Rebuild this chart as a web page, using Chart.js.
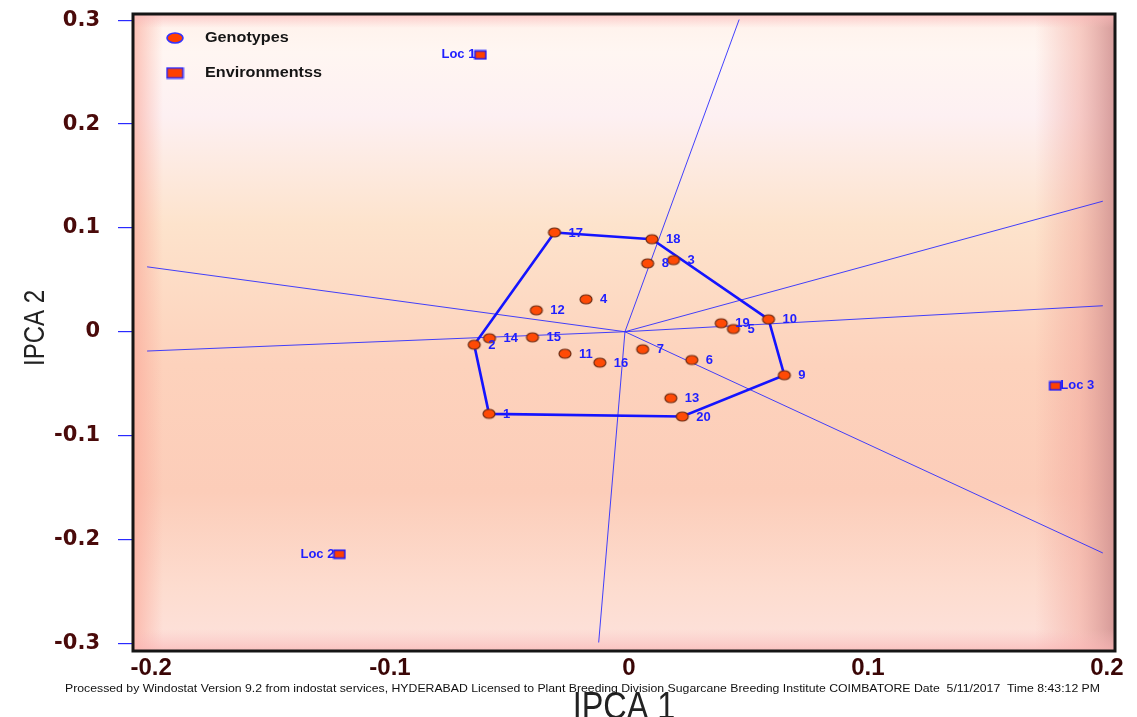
<!DOCTYPE html>
<html>
<head>
<meta charset="utf-8">
<title>AMMI biplot IPCA 1 vs IPCA 2</title>
<script src="https://cdn.jsdelivr.net/npm/chart.js@4.4.0/dist/chart.umd.min.js"></script>
<style>
  html, body { margin: 0; padding: 0; background: #fff; }
  #wrap { width: 1137px; height: 717px; position: relative; }
</style>
</head>
<body>
<div id="wrap"><canvas id="biplot"></canvas></div>
<script>
// Genotype scores
const genotypeLabels = ['1', '2', '3', '4', '5', '6', '7', '8', '9', '10',
  '11', '12', '13', '14', '15', '16', '17', '18', '19', '20'];
const genotypeIPCA1 = [-0.0569, -0.0631, 0.0203, -0.0163, 0.0454, 0.0280, 0.0074, 0.0095, 0.0667, 0.0601,
  -0.0251, -0.0371, 0.0192, -0.0567, -0.0387, -0.0105, -0.0295, 0.0113, 0.0403, 0.0240];
const genotypeIPCA2 = [-0.0791, -0.0125, 0.0689, 0.0312, 0.0026, -0.0272, -0.0169, 0.0658, -0.0419, 0.0119,
  -0.0212, 0.0206, -0.0640, -0.0063, -0.0054, -0.0298, 0.0956, 0.0891, 0.0081, -0.0817];

// Environment scores
const envLabels = ['Loc 1', 'Loc 2', 'Loc 3'];
const envIPCA1 = [-0.0605, -0.1195, 0.1801];
const envIPCA2 = [0.2666, -0.2142, -0.0522];

// Polygon joining the outermost genotypes
const hullOrder = ['17', '18', '10', '9', '20', '1', '2', '17'];

// Rays drawn from the origin, end points
const rayIPCA1 = [0.0478, -0.011, -0.2, -0.2, 0.2, 0.2, 0.2];
const rayIPCA2 = [0.3007, -0.2993, 0.0625, -0.0186, 0.1257, 0.025, -0.2131];

// Axis ticks
const xTicks = [-0.2, -0.1, 0, 0.1, 0.2];
const yTicks = [-0.3, -0.2, -0.1, 0, 0.1, 0.2, 0.3];

const footerText = 'Processed by Windostat Version 9.2 from indostat services, HYDERABAD Licensed to Plant Breeding Division Sugarcane Breeding Institute COIMBATORE Date  5/11/2017  Time 8:43:12 PM';

// Marker images
function makeEllipse(w, h, fill, stroke, lw) {
  const c = document.createElement('canvas');
  c.width = w + 4;
  c.height = h + 4;
  const g = c.getContext('2d');
  g.beginPath();
  g.ellipse(c.width / 2, c.height / 2, w / 2, h / 2, 0, 0, Math.PI * 2);
  g.fillStyle = fill;
  g.fill();
  g.lineWidth = lw;
  g.strokeStyle = stroke;
  g.stroke();
  return c;
}

function makeRect(w, h, fill, stroke, lw) {
  const c = document.createElement('canvas');
  c.width = w + 2;
  c.height = h + 2;
  const g = c.getContext('2d');
  g.fillStyle = fill;
  g.fillRect(1, 1, w, h);
  g.lineWidth = lw;
  g.strokeStyle = stroke;
  g.strokeRect(1.5, 1.5, w - 1, h - 1);
  return c;
}

const genoMarker = makeEllipse(12, 9, '#ff4a05', '#6a2a12', 1.2);
const envMarker = makeRect(12, 9, '#ff4000', '#1a1aff', 1.6);

const genoPoints = genotypeLabels.map((l, i) => ({ x: genotypeIPCA1[i], y: genotypeIPCA2[i] }));
const envPoints = envLabels.map((l, i) => ({ x: envIPCA1[i], y: envIPCA2[i] }));
const hullPoints = hullOrder.map(l => {
  const i = genotypeLabels.indexOf(l);
  return { x: genotypeIPCA1[i], y: genotypeIPCA2[i] };
});

const rayDatasets = rayIPCA1.map((x, i) => ({
  type: 'line',
  data: [{ x: 0, y: 0 }, { x: x, y: rayIPCA2[i] }],
  borderColor: 'rgba(45,45,255,0.9)',
  borderWidth: 1,
  pointRadius: 0,
  fill: false,
  order: 4
}));

// Shaded plot background and frame
const backdrop = {
  id: 'backdrop',
  beforeDatasetsDraw(chart) {
    const { ctx, chartArea: a } = chart;
    ctx.save();
    let g = ctx.createLinearGradient(0, a.top, 0, a.bottom);
    g.addColorStop(0, '#fff1ea');
    g.addColorStop(0.06, '#fff6f2');
    g.addColorStop(0.16, '#fdf0f2');
    g.addColorStop(0.33, '#fde3cc');
    g.addColorStop(0.55, '#fdd2bc');
    g.addColorStop(0.75, '#fccdb9');
    g.addColorStop(0.9, '#fddccf');
    g.addColorStop(1, '#fde2dc');
    ctx.fillStyle = g;
    ctx.fillRect(a.left, a.top, a.width, a.height);

    g = ctx.createLinearGradient(a.left, 0, a.left + 30, 0);
    g.addColorStop(0, 'rgba(250,165,150,0.65)');
    g.addColorStop(1, 'rgba(250,165,150,0)');
    ctx.fillStyle = g;
    ctx.fillRect(a.left, a.top, 30, a.height);

    g = ctx.createLinearGradient(a.right - 80, 0, a.right, 0);
    g.addColorStop(0, 'rgba(240,160,150,0)');
    g.addColorStop(0.55, 'rgba(240,165,155,0.5)');
    g.addColorStop(1, 'rgba(205,140,140,0.85)');
    ctx.fillStyle = g;
    ctx.fillRect(a.right - 80, a.top, 80, a.height);

    g = ctx.createLinearGradient(0, a.top, 0, a.top + 14);
    g.addColorStop(0, 'rgba(250,185,185,0.7)');
    g.addColorStop(1, 'rgba(250,185,185,0)');
    ctx.fillStyle = g;
    ctx.fillRect(a.left, a.top, a.width, 14);

    g = ctx.createLinearGradient(0, a.bottom - 22, 0, a.bottom);
    g.addColorStop(0, 'rgba(250,190,190,0)');
    g.addColorStop(1, 'rgba(250,180,180,0.7)');
    ctx.fillStyle = g;
    ctx.fillRect(a.left, a.bottom - 22, a.width, 22);
    ctx.restore();
  },
  afterDatasetsDraw(chart) {
    const { ctx, chartArea: a } = chart;
    ctx.save();
    ctx.strokeStyle = '#151515';
    ctx.lineWidth = 3;
    ctx.strokeRect(a.left, a.top, a.width, a.height);
    ctx.restore();
  }
};

// Point labels, legend, titles and footer
const annotate = {
  id: 'annotate',
  afterDatasetsDraw(chart) {
    const ctx = chart.ctx;
    ctx.save();
    ctx.fillStyle = '#1f1fff';
    ctx.textBaseline = 'middle';

    ctx.font = 'bold 13px "Liberation Sans", Arial, sans-serif';
    ctx.textAlign = 'left';
    chart.getDatasetMeta(0).data.forEach((pt, i) => {
      ctx.fillText(genotypeLabels[i], pt.x + 14, pt.y + 0.5);
    });

    chart.getDatasetMeta(1).data.forEach((pt, i) => {
      if (envIPCA1[i] > 0) {
        ctx.textAlign = 'left';
        ctx.fillText(envLabels[i], pt.x + 5, pt.y);
      } else {
        ctx.textAlign = 'right';
        ctx.fillText(envLabels[i], pt.x - 5, pt.y);
      }
    });

    // legend
    ctx.drawImage(makeEllipse(16, 10, '#ff4000', '#3333ff', 1.6), 175 - 10, 38 - 7);
    ctx.drawImage(makeRect(17, 11, '#ff4000', '#2a2aff', 1.6), 175 - 9.5, 73 - 6.5);
    ctx.fillStyle = '#151515';
    ctx.textAlign = 'left';
    ctx.font = 'bold 15px "Liberation Sans", Arial, sans-serif';
    [['Genotypes', 38], ['Environmentss', 73]].forEach(([t, y]) => {
      ctx.save();
      ctx.translate(205, y);
      ctx.scale(1.08, 1);
      ctx.fillText(t, 0, 0);
      ctx.restore();
    });
    ctx.restore();
  },
  afterDraw(chart) {
    const ctx = chart.ctx;
    ctx.save();
    ctx.fillStyle = '#222';

    // y axis title
    ctx.save();
    ctx.translate(36, 328);
    ctx.rotate(-Math.PI / 2);
    ctx.scale(0.8, 1);
    ctx.font = '30px "Liberation Sans", Arial, sans-serif';
    ctx.textAlign = 'center';
    ctx.textBaseline = 'middle';
    ctx.fillText('IPCA 2', 0, 0);
    ctx.restore();

    // x axis title, clipped by the bottom edge
    ctx.save();
    ctx.translate(624, 719);
    ctx.scale(0.9, 1.1);
    ctx.font = '36px "Liberation Sans", Arial, sans-serif';
    ctx.textAlign = 'center';
    ctx.textBaseline = 'alphabetic';
    ctx.fillText('IPCA 1', 0, 0);
    ctx.restore();

    // footer
    ctx.font = '11px "Liberation Sans", Arial, sans-serif';
    const w = ctx.measureText(footerText).width;
    ctx.save();
    ctx.translate(65, 689);
    ctx.scale(1035 / w, 1);
    ctx.textAlign = 'left';
    ctx.textBaseline = 'middle';
    ctx.fillStyle = '#111';
    ctx.fillText(footerText, 0, 0);
    ctx.restore();
    ctx.restore();
  }
};

const fmt = v => (Math.abs(v) < 1e-9 ? '0' : Number(v).toFixed(1));
const noPad = s => { s.paddingTop = 0; s.paddingBottom = 0; s.paddingLeft = 0; s.paddingRight = 0; };

new Chart(document.getElementById('biplot'), {
  type: 'scatter',
  data: {
    datasets: [
      {
        label: 'Genotypes',
        data: genoPoints,
        pointStyle: genoMarker,
        pointRadius: 6,
        order: 1
      },
      {
        label: 'Environmentss',
        data: envPoints,
        pointStyle: envMarker,
        pointRadius: 6,
        order: 2
      },
      {
        type: 'line',
        label: 'hull',
        data: hullPoints,
        borderColor: '#1414ff',
        borderWidth: 2.6,
        pointRadius: 0,
        fill: false,
        order: 3
      },
      ...rayDatasets
    ]
  },
  options: {
    responsive: true,
    maintainAspectRatio: false,
    animation: false,
    layout: { padding: { top: 14, right: 22, left: 0, bottom: 0 } },
    plugins: {
      legend: { display: false },
      tooltip: { enabled: false }
    },
    scales: {
      x: {
        type: 'linear',
        min: -0.2059,
        max: 0.2051,
        afterBuildTicks: s => { s.ticks = xTicks.map(v => ({ value: v })); },
        afterFit: s => { s.height = 66; noPad(s); },
        grid: { display: false, drawTicks: false },
        border: { display: false },
        ticks: {
          callback: v => fmt(v),
          color: '#3a0606',
          padding: 3,
          labelOffset: 4,
          maxRotation: 0,
          autoSkip: false,
          font: { family: '"Liberation Sans", Arial, sans-serif', size: 24, weight: 'bold' }
        }
      },
      y: {
        type: 'linear',
        min: -0.3075,
        max: 0.306,
        afterBuildTicks: s => { s.ticks = yTicks.map(v => ({ value: v })); },
        afterFit: s => { s.width = 133; noPad(s); },
        grid: { drawOnChartArea: false, drawTicks: true, tickLength: 15, color: '#2a2aff', lineWidth: 1.2 },
        border: { display: false },
        ticks: {
          callback: v => fmt(v),
          color: '#4a0a0a',
          padding: 18,
          autoSkip: false,
          font: { family: '"DejaVu Sans", Arial, sans-serif', size: 21, weight: 'bold' }
        }
      }
    }
  },
  plugins: [backdrop, annotate]
});
</script>
</body>
</html>
